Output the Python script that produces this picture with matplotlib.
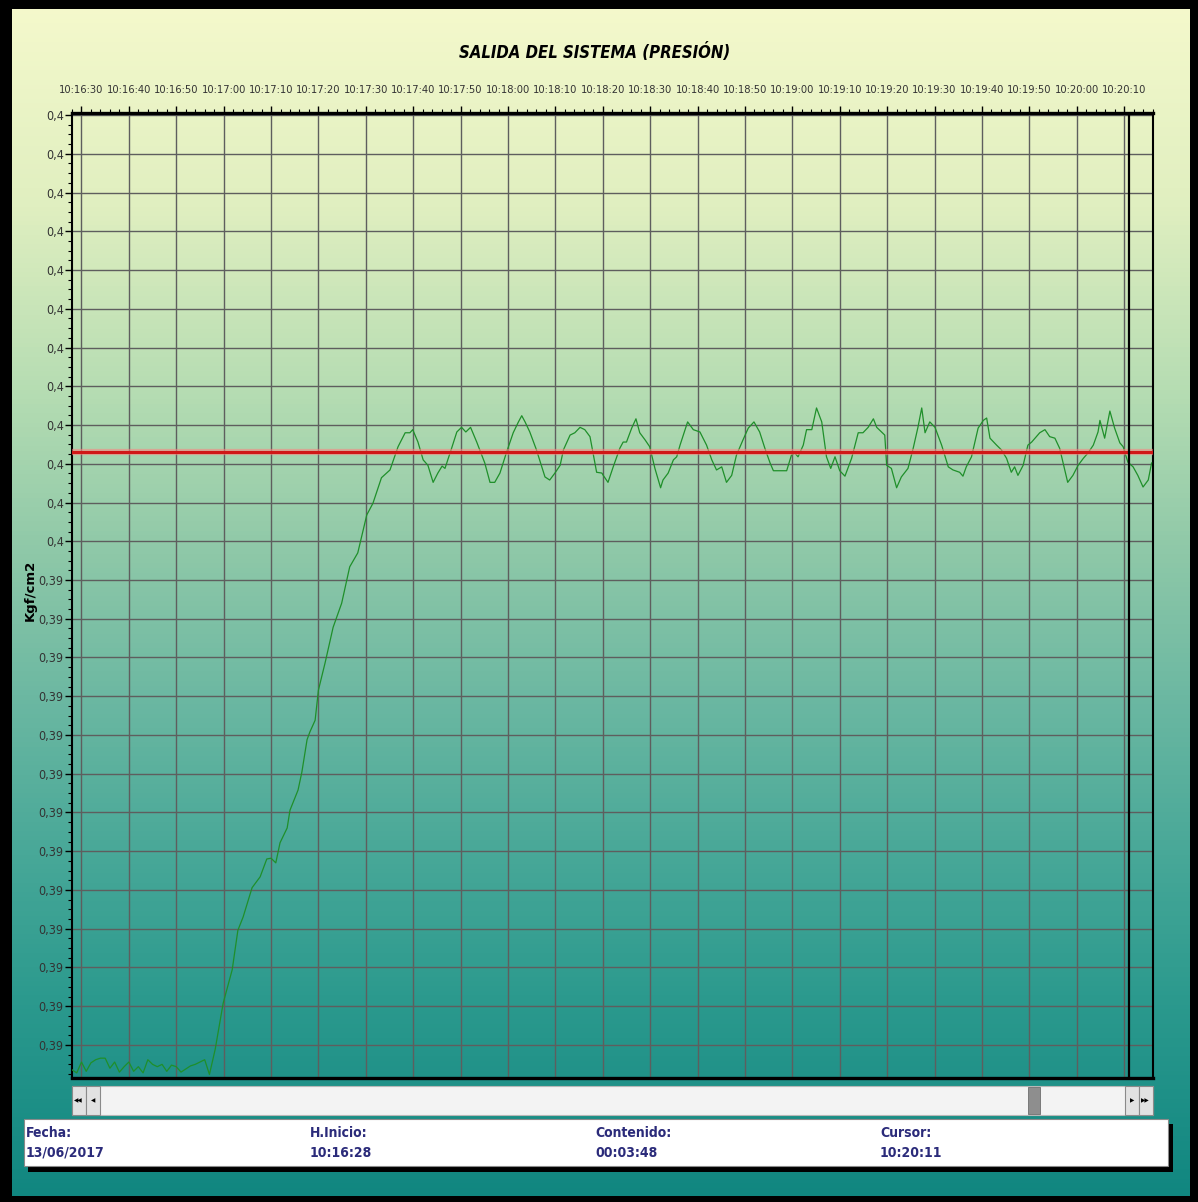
import numpy as np
import matplotlib
matplotlib.use("Agg")
import matplotlib.pyplot as plt
from matplotlib.colors import LinearSegmentedColormap
from matplotlib.patches import Rectangle
from matplotlib.ticker import FixedLocator, FuncFormatter

plt.rcParams['font.family'] = ['DejaVu Sans']
plt.rcParams['font.stretch'] = 'condensed'

# segundos desde el inicio (10:16:28) y presion leida (kgf/cm2)
t_s = [0, 1, 2, 3, 4, 5, 6, 7, 8, 9, 10, 11, 12, 13, 14, 15, 16, 17, 18, 19,
       20, 21, 22, 23, 24, 25, 26, 27, 28, 29,
       30.2, 31.9, 33.8, 35.0, 36.1, 38.0, 39.7, 41.1, 42.0, 43.0, 43.9, 45.4,
       46.0, 47.7, 48.5, 49.6, 50.2, 51.3, 52.0, 53.4, 55.1, 56.9, 58.6, 60.3,
       62.2, 63.5, 65.3, 67.1, 68.8, 70.3, 71.3, 71.9,
       73.0, 74.1, 75.1, 76.2, 77.2, 78.1, 78.7, 80.1, 81.2, 82.2, 83.1, 84.1,
       85.4, 87.1, 88.2, 89.2, 90.3, 91.7, 93.1, 94.2, 94.9, 95.6, 96.6, 98.0,
       99.8, 100.8, 101.9, 103.0, 103.7, 105.1, 106.1, 107.2, 108.2, 109.3,
       110.7, 111.8, 112.1, 113.1, 114.2, 115.6, 116.3, 117.0, 118.1, 119.0,
       119.8, 120.9, 121.9, 123.0, 124.2, 124.7, 125.8, 126.9, 127.6, 128.3,
       129.0, 129.9, 131.1, 132.5, 133.9, 135.0, 136.0, 137.1, 138.1, 139.2,
       140.2, 141.6, 142.7, 143.9, 145.1, 146.2, 147.3, 148.0, 150.8, 151.8,
       152.5, 153.2, 154.3, 155.0, 156.1, 157.1, 158.2, 159.2, 160.1, 161.0,
       162.0, 163.1, 164.5, 165.9, 166.9, 168.0, 169.1, 169.8, 170.8, 171.5,
       171.9, 172.9, 174.0, 175.0, 176.4, 177.5, 178.5, 179.3, 180.0, 181.0,
       182.1, 183.5, 184.9, 185.9, 187.3, 188.0, 188.7, 189.8, 191.2, 192.3,
       193.0, 193.7, 195.1, 196.1, 197.2, 198.2, 198.9, 199.6, 200.7, 201.7,
       202.5, 203.2, 204.2, 205.3, 206.3, 207.4, 208.4, 209.1, 210.1, 211.2,
       212.3, 213.4, 214.4, 215.5, 216.5, 216.9, 217.9, 219.0, 220.0, 221.1,
       221.8, 222.8, 223.9, 224.9, 226.0, 227.1, 227.8]

presion = [0.38818, 0.38814, 0.38828, 0.38816, 0.38827, 0.38831, 0.38833, 0.38833,
           0.38820, 0.38828, 0.38815, 0.38822, 0.38828, 0.38816, 0.38822, 0.38814,
           0.38831, 0.38825, 0.38822, 0.38825, 0.38816, 0.38824, 0.38822, 0.38815,
           0.38819, 0.38823, 0.38825, 0.38828, 0.38831, 0.38812,
           0.38844, 0.38904, 0.38947, 0.38998, 0.39015, 0.39053, 0.39067, 0.39090,
           0.39091, 0.39085, 0.39111, 0.39130, 0.39153, 0.39179, 0.39202, 0.39244,
           0.39254, 0.39269, 0.39308, 0.39343, 0.39389, 0.39420, 0.39467, 0.39485,
           0.39534, 0.39549, 0.39582, 0.39592, 0.39622, 0.39640, 0.39640, 0.39644,
           0.39628, 0.39605, 0.39598, 0.39576, 0.39588, 0.39597, 0.39594, 0.39620,
           0.39641, 0.39647, 0.39641, 0.39647, 0.39628, 0.39601, 0.39576, 0.39576,
           0.39588, 0.39615, 0.39640, 0.39654, 0.39662, 0.39654, 0.39641, 0.39618,
           0.39583, 0.39579, 0.39588, 0.39598, 0.39618, 0.39637, 0.39640, 0.39647,
           0.39644, 0.39635, 0.39589, 0.39588, 0.39585, 0.39576, 0.39596, 0.39620,
           0.39628, 0.39628, 0.39646, 0.39658, 0.39640, 0.39631, 0.39622, 0.39594,
           0.39569, 0.39579, 0.39588, 0.39605, 0.39609, 0.39624, 0.39637, 0.39654,
           0.39644, 0.39641, 0.39624, 0.39605, 0.39592, 0.39596, 0.39576, 0.39585,
           0.39611, 0.39631, 0.39646, 0.39654, 0.39641, 0.39620, 0.39601, 0.39591,
           0.39591, 0.39611, 0.39614, 0.39609, 0.39624, 0.39644, 0.39644, 0.39672,
           0.39654, 0.39609, 0.39594, 0.39609, 0.39591, 0.39584, 0.39607, 0.39640,
           0.39640, 0.39647, 0.39658, 0.39647, 0.39641, 0.39637, 0.39598, 0.39594,
           0.39569, 0.39583, 0.39594, 0.39620, 0.39647, 0.39672, 0.39640, 0.39654,
           0.39647, 0.39624, 0.39596, 0.39592, 0.39589, 0.39584, 0.39596, 0.39609,
           0.39646, 0.39656, 0.39659, 0.39633, 0.39624, 0.39618, 0.39607, 0.39589,
           0.39596, 0.39585, 0.39598, 0.39624, 0.39628, 0.39633, 0.39640, 0.39644,
           0.39635, 0.39633, 0.39620, 0.39602, 0.39576, 0.39585, 0.39598, 0.39607,
           0.39614, 0.39624, 0.39641, 0.39656, 0.39633, 0.39668, 0.39646, 0.39627,
           0.39622, 0.39602, 0.39596, 0.39585, 0.39570, 0.39579, 0.39601]

consigna = 0.39615          # linea roja
cursor_s = 223              # 10:20:11
inicio = 10 * 3600 + 16 * 60 + 28
x_ticks = list(range(2, 228, 10))
y_ticks = [round(0.4005 - 0.0005 * i, 4) for i in range(25)]

info_labels = ["Fecha:", "H.Inicio:", "Contenido:", "Cursor:"]
info_values = ["13/06/2017", "10:16:28", "00:03:48", "10:20:11"]


def hora(sec, pos=None):
    s = inicio + int(round(sec))
    return f"{s // 3600}:{(s % 3600) // 60:02d}:{s % 60:02d}"


def etiqueta_y(v, pos=None):
    return f"{round(v + 1e-9, 2):g}".replace(".", ",")


W, H = 1198, 1202
fig = plt.figure(figsize=(W / 100, H / 100), dpi=100)

# fondo con degradado + marcos
bg = fig.add_axes([0, 0, 1, 1], zorder=0)
bg.set_xlim(0, W)
bg.set_ylim(H, 0)
bg.axis("off")
fondo = LinearSegmentedColormap.from_list("fondo", [
    (0.0, "#f5f9cc"), (0.17, "#e0efc0"), (0.33, "#b4dcb2"), (0.46, "#8ec8a8"),
    (0.58, "#6cb8a2"), (0.71, "#48a898"), (0.83, "#2c9a8e"), (1.0, "#108680")])
bg.imshow(np.linspace(0, 1, 256).reshape(-1, 1), aspect="auto", cmap=fondo,
          extent=[0, W, H, 0])
for r in [(0, 0, W, 9), (0, 0, 12, H), (1190, 0, 8, H), (0, 1196, W, 6)]:
    bg.add_patch(Rectangle(r[:2], r[2], r[3], fc="black", ec="none"))

# barra de desplazamiento
bg.add_patch(Rectangle((72, 1086), 1081, 29, fc="#f3f3f3", ec="#b8b8b8", lw=0.8))
for bx, txt in [(72, "◀◀"), (86, "◀"), (1125, "▶"), (1139, "▶▶")]:
    bg.add_patch(Rectangle((bx, 1086), 13.5, 29, fc="#e2e2e2", ec="#8a8a8a", lw=0.8))
    bg.text(bx + 6.8, 1100.5, txt, fontsize=4.5, ha="center", va="center",
            color="black")
bg.add_patch(Rectangle((1028, 1087), 12, 27, fc="#8e8e8e", ec="#6e6e6e", lw=0.6))

# cuadro de informacion
bg.add_patch(Rectangle((28, 1124), 1145, 48, fc="black", ec="none"))
bg.add_patch(Rectangle((24, 1119), 1144, 47, fc="white", ec="#8a8a8a", lw=0.8))
for xi, lab, val in zip([26, 310, 595, 880], info_labels, info_values):
    bg.text(xi, 1133, lab, fontsize=10, fontweight="bold", color="#2b2b7a",
            ha="left", va="center")
    bg.text(xi, 1153, val, fontsize=10, fontweight="bold", color="#2b2b7a",
            ha="left", va="center")

# grafico principal
ax = fig.add_axes([72 / W, 1 - 1078 / H, (1153 - 72) / W, (1078 - 113) / H], zorder=1)
ax.patch.set_alpha(0)
ax.set_xlim(0, 228.1)
ax.set_ylim(0.388074, 0.400526)

ax.plot(t_s, presion, color="#1f8f2a", lw=0.9, zorder=3)
ax.axhline(consigna, color="#ff8080", lw=4.5, alpha=0.55, zorder=4)
ax.axhline(consigna, color="#d01818", lw=2.2, zorder=4)
ax.axvline(cursor_s, color="black", lw=1.6, zorder=5)

ax.xaxis.tick_top()
ax.xaxis.set_major_locator(FixedLocator(x_ticks))
ax.xaxis.set_minor_locator(FixedLocator(np.arange(0, 229, 2)))
ax.xaxis.set_major_formatter(FuncFormatter(hora))
ax.yaxis.set_major_locator(FixedLocator(y_ticks))
ax.yaxis.set_minor_locator(FixedLocator(np.arange(0.38800, 0.40055, 0.000125)))
ax.yaxis.set_major_formatter(FuncFormatter(etiqueta_y))

ax.tick_params(axis="x", which="major", direction="out", length=5, width=1,
               pad=8, labelsize=8, labelcolor="#333333")
ax.tick_params(axis="x", which="minor", direction="out", length=3, width=0.8)
ax.tick_params(axis="y", which="major", direction="out", length=5, width=1,
               pad=1, labelsize=9, labelcolor="#333333")
ax.tick_params(axis="y", which="minor", direction="out", length=3, width=0.8)

ax.grid(True, which="major", color="#5e5e5e", lw=1.0)
ax.set_axisbelow(True)
for side, lw in [("top", 2.4), ("bottom", 2.4), ("left", 1.5), ("right", 1.5)]:
    ax.spines[side].set_linewidth(lw)
    ax.spines[side].set_color("black")

fig.text(595 / W, 1 - 52 / H, "SALIDA DEL SISTEMA (PRESIÓN)", fontsize=12,
         fontweight="bold", style="italic", ha="center", va="center")
fig.text(30 / W, 1 - 590 / H, "Kgf/cm2", rotation=90, fontsize=9.5,
         fontweight="bold", fontstretch="normal", ha="center", va="center")

fig.savefig("out.png", dpi=100)
